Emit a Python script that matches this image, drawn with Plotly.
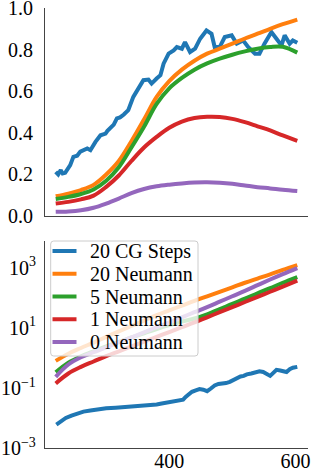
import numpy as np
import plotly.graph_objects as go

# ---------------- data ----------------
series_names = ["20 CG Steps", "20 Neumann", "5 Neumann", "1 Neumann", "0 Neumann"]
series_colors = ["#1f77b4", "#ff7f0e", "#2ca02c", "#d62728", "#9467bd"]

steps = [220, 240, 260, 280, 300, 320, 340, 360, 380, 400,
         420, 440, 460, 480, 500, 520, 540, 560, 580, 603]

top_cg_x = [220, 224, 228, 231, 235, 239, 243, 248, 254, 259, 264, 270, 275, 279, 283,
            291, 299, 302, 307, 312, 317, 322, 328, 335, 343, 351, 359, 367, 372, 380,
            386, 391, 399, 407, 412, 420, 425, 433, 441, 449, 459, 467, 472, 480, 488,
            499, 507, 517, 525, 536, 543, 551, 562, 570, 578, 583, 591, 596, 603]
top_cg = [0.213, 0.200, 0.221, 0.205, 0.208, 0.225, 0.245, 0.285, 0.290, 0.310, 0.318, 0.325,
          0.317, 0.340, 0.357, 0.389, 0.397, 0.410, 0.426, 0.440, 0.470, 0.475, 0.489, 0.510,
          0.574, 0.614, 0.654, 0.657, 0.638, 0.662, 0.678, 0.734, 0.782, 0.798, 0.814, 0.806,
          0.838, 0.790, 0.806, 0.854, 0.894, 0.878, 0.814, 0.814, 0.862, 0.870, 0.830, 0.846,
          0.814, 0.782, 0.782, 0.830, 0.886, 0.854, 0.822, 0.870, 0.830, 0.846, 0.835]
top_n20 = [0.095, 0.108, 0.125, 0.150, 0.200, 0.265, 0.360, 0.465, 0.574, 0.650,
           0.705, 0.748, 0.782, 0.806, 0.830, 0.855, 0.878, 0.902, 0.924, 0.946]
top_n5 = [0.082, 0.092, 0.106, 0.128, 0.170, 0.235, 0.330, 0.430, 0.540, 0.615,
          0.665, 0.705, 0.735, 0.758, 0.777, 0.793, 0.806, 0.814, 0.815, 0.787]
top_n1 = [0.060, 0.068, 0.080, 0.098, 0.140, 0.195, 0.265, 0.330, 0.381, 0.425,
          0.455, 0.472, 0.478, 0.477, 0.468, 0.452, 0.432, 0.412, 0.388, 0.362]
top_n0 = [0.020, 0.022, 0.028, 0.040, 0.060, 0.084, 0.110, 0.130, 0.143, 0.151,
          0.157, 0.161, 0.162, 0.160, 0.155, 0.147, 0.139, 0.133, 0.126, 0.120]

bot_cg_x = [221, 228, 236, 245, 255, 264, 275, 288, 300, 315, 330, 345, 358, 365, 372,
            380, 388, 395, 402, 410, 416, 422, 426, 430, 436, 442, 448, 454, 460, 466,
            472, 478, 484, 490, 496, 502, 507, 513, 518, 523, 530, 537, 543, 549, 555,
            560, 565, 570, 576, 581, 586, 591, 596, 603]
bot_cg_exp = [-2.22, -2.10, -2.00, -1.92, -1.85, -1.79, -1.75, -1.71, -1.68, -1.66, -1.64,
              -1.63, -1.61, -1.58, -1.57, -1.55, -1.52, -1.50, -1.46, -1.44, -1.41, -1.39,
              -1.30, -1.22, -1.13, -1.08, -1.04, -1.06, -1.11, -1.02, -0.92, -0.87, -0.86,
              -0.84, -0.80, -0.74, -0.67, -0.62, -0.60, -0.55, -0.52, -0.48, -0.45, -0.47,
              -0.55, -0.60, -0.50, -0.40, -0.42, -0.46, -0.47, -0.38, -0.33, -0.30]
bot_n20_exp = [-0.10, 0.14, 0.33, 0.51, 0.70, 0.88, 1.06, 1.24, 1.42, 1.58,
               1.74, 1.90, 2.05, 2.20, 2.35, 2.50, 2.64, 2.78, 2.93, 3.09]
bot_n5_exp = [-0.48, -0.16, 0.05, 0.22, 0.38, 0.53, 0.68, 0.82, 0.96, 1.09,
              1.21, 1.31, 1.45, 1.62, 1.80, 1.97, 2.15, 2.32, 2.50, 2.69]
bot_n1_exp = [-0.85, -0.52, -0.30, -0.12, 0.06, 0.22, 0.38, 0.54, 0.70, 0.86,
              1.02, 1.18, 1.35, 1.52, 1.69, 1.86, 2.03, 2.20, 2.37, 2.57]
bot_n0_exp = [-0.63, -0.22, 0.02, 0.19, 0.35, 0.52, 0.68, 0.85, 1.02, 1.18,
              1.35, 1.52, 1.69, 1.87, 2.05, 2.23, 2.42, 2.61, 2.79, 2.99]

x_tick_vals = [400, 600]
top_tick_vals = [0.0, 0.2, 0.4, 0.6, 0.8, 1.0]
bot_tick_exps = [-3, -1, 1, 3]

# ---------------- figure ----------------
FONT = "Liberation Serif, Times New Roman, serif"
TICK_SIZE = 20
LW = 4
AXIS_COLOR = "#444444"

fig = go.Figure()

top_sets = [(top_cg_x, top_cg), (steps, top_n20), (steps, top_n5), (steps, top_n1), (steps, top_n0)]
for i, (xs, ys) in enumerate(top_sets):
    fig.add_trace(go.Scatter(
        x=xs, y=ys, mode="lines", name=series_names[i], showlegend=False, hoverinfo="skip",
        line=dict(color=series_colors[i], width=LW, shape="linear" if i == 0 else "spline"),
        xaxis="x", yaxis="y"))

bot_sets = [(bot_cg_x, bot_cg_exp), (steps, bot_n20_exp), (steps, bot_n5_exp),
            (steps, bot_n1_exp), (steps, bot_n0_exp)]
for i, (xs, es) in enumerate(bot_sets):
    fig.add_trace(go.Scatter(
        x=xs, y=np.power(10.0, np.array(es)), mode="lines", name=series_names[i],
        showlegend=False, hoverinfo="skip",
        line=dict(color=series_colors[i], width=LW, shape="linear" if i == 0 else "spline"),
        xaxis="x2", yaxis="y2"))

W, H = 312, 475
ML, MR, MT, MB = 45, 4, 8, 27
PW, PH = W - ML - MR, H - MT - MB


def px_to_paper_x(px):
    return (px - ML) / PW


def px_to_paper_y(py):
    return (H - MB - py) / PH


top_dom = [px_to_paper_y(216), 1.0]
bot_dom = [0.0, px_to_paper_y(241)]

axis_common = dict(showgrid=False, zeroline=False, showline=True, linecolor=AXIS_COLOR,
                   linewidth=1.25, ticks="", automargin=False, ticklabeloverflow="allow",
                   tickfont=dict(family=FONT, size=TICK_SIZE, color="#000000"))

fig.update_layout(
    width=W, height=H,
    margin=dict(l=ML, r=MR, t=MT, b=MB, pad=0),
    paper_bgcolor="white", plot_bgcolor="white",
    font=dict(family=FONT),
    showlegend=False,
    xaxis=dict(domain=[0, 1], anchor="y", range=[203, 620], showticklabels=False,
               **axis_common),
    yaxis=dict(domain=top_dom, anchor="x", range=[0, 1.002], tickvals=top_tick_vals,
               ticktext=[f"{v:.1f}" for v in top_tick_vals], ticklabelstandoff=7,
               **axis_common),
    xaxis2=dict(domain=[0, 1], anchor="y2", range=[203, 620], tickvals=x_tick_vals,
                ticktext=[str(v) for v in x_tick_vals], ticklabelstandoff=-5,
                **axis_common),
    yaxis2=dict(domain=bot_dom, anchor="x2", type="log", range=[-3, 3.89],
                tickvals=[10.0 ** e for e in bot_tick_exps],
                ticktext=["10<sup>" + str(e).replace("-", "\u2212") + "</sup>" for e in bot_tick_exps],
                ticklabelstandoff=4, **axis_common),
)

bx0, bx1 = px_to_paper_x(50.7), px_to_paper_x(198)
by0, by1 = px_to_paper_y(356), px_to_paper_y(241)
rx, ry = 3 / PW, 3 / PH
path = (f"M {bx0+rx},{by1} L {bx1-rx},{by1} Q {bx1},{by1} {bx1},{by1-ry} "
        f"L {bx1},{by0+ry} Q {bx1},{by0} {bx1-rx},{by0} L {bx0+rx},{by0} "
        f"Q {bx0},{by0} {bx0},{by0+ry} L {bx0},{by1-ry} Q {bx0},{by1} {bx0+rx},{by1} Z")
fig.add_shape(type="path", path=path, xref="paper", yref="paper",
              fillcolor="rgba(255,255,255,0.8)", line=dict(color="#cccccc", width=1),
              layer="above")
row_y0, row_dy = 251, 22.75
for i, name in enumerate(series_names):
    ry_px = row_y0 + i * row_dy
    fig.add_shape(type="line", xref="paper", yref="paper",
                  x0=px_to_paper_x(52.5), x1=px_to_paper_x(76.5),
                  y0=px_to_paper_y(ry_px), y1=px_to_paper_y(ry_px),
                  line=dict(color=series_colors[i], width=LW), layer="above")
    fig.add_annotation(xref="paper", yref="paper", x=px_to_paper_x(87.5),
                       y=px_to_paper_y(ry_px), text=name, showarrow=False,
                       xanchor="left", yanchor="middle",
                       font=dict(family=FONT, size=20, color="#000000"))

fig.write_html("out.html", config={"displayModeBar": False},
               post_script="document.body.style.margin='0';")
